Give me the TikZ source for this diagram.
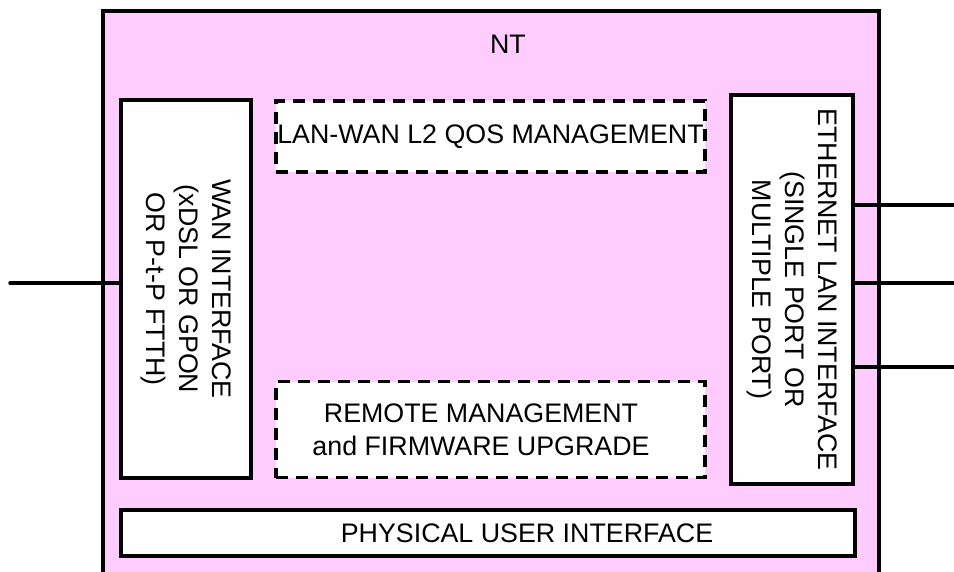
\documentclass[tikz,border=0pt]{standalone}
\usepackage{fontspec}
\setmainfont{Liberation Sans}
\usepackage{tikz}
\usetikzlibrary{positioning}
\definecolor{ntpink}{RGB}{255,204,255}

\begin{document}
\begin{tikzpicture}[x=1pt, y=-1pt,
    font=\fontsize{26.8}{33}\selectfont,
    blockbox/.style={draw, line width=3.2pt, fill=white, inner sep=0pt, align=center},
    dashbox/.style={blockbox, dash pattern=on 12pt off 8pt},
    wire/.style={line width=3.5pt}]
    \useasboundingbox (0,0) rectangle (954,571);
    \clip (0,0) rectangle (954,571);

    % NT enclosure
    \draw[line width=3.2pt, fill=ntpink] (103,11) rectangle (879,600);
    \node (nt) at (508,44) {NT};

    % Interfaces
    \node[blockbox, rotate=-90, minimum width=378pt, minimum height=130pt] (wan) at (186,289)
        {WAN INTERFACE\\(xDSL OR GPON\\OR P-t-P FTTH)};
    \node[blockbox, rotate=-90, minimum width=389pt, minimum height=122pt] (eth) at (792,289.5)
        {ETHERNET LAN INTERFACE\\(SINGLE PORT OR\\MULTIPLE PORT)};
    \node[blockbox, minimum width=734pt, minimum height=46pt] (phys) at (488,533)
        {\hspace*{78pt}PHYSICAL USER INTERFACE};

    % Management functions
    \node[dashbox, minimum width=429pt, minimum height=71pt] (qos) at (490.5,136.5)
        {LAN-WAN L2 QOS MANAGEMENT};
    \node[dashbox, minimum width=429pt, minimum height=96pt] (rmgmt) at (490.5,429.5)
        {REMOTE MANAGEMENT\kern19pt\\and FIRMWARE UPGRADE\kern19pt};

    % Lines
    \coordinate (wanline) at (10,283);
    \draw[wire, line cap=round] (wanline) -- (wanline -| wan.south);
    \foreach \y [count=\i] in {205,283,367} {
        \coordinate (lan\i) at (960,\y);
        \draw[wire] (eth.north |- lan\i) -- (lan\i);
    }
\end{tikzpicture}
\end{document}
